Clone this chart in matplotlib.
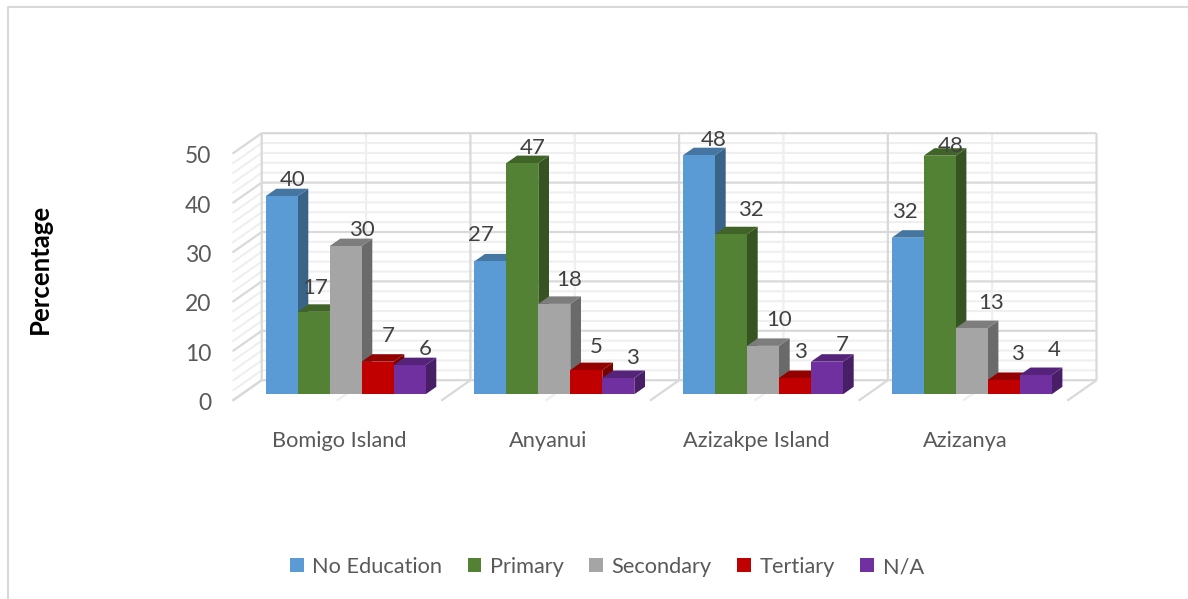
import matplotlib
matplotlib.use('Agg')
import matplotlib.pyplot as plt
from matplotlib.lines import Line2D
from matplotlib.patches import Patch, Polygon
from matplotlib.colors import to_rgb

plt.rcParams['font.family'] = ['Lato', 'DejaVu Sans']

sites = ['Bomigo Island', 'Anyanui', 'Azizakpe Island', 'Azizanya']
levels = ['No Education', 'Primary', 'Secondary', 'Tertiary', 'N/A']
colors = ['#5B9BD5', '#548235', '#A5A5A5', '#C00000', '#7030A0']

no_education = [40.1, 26.9, 48.4, 31.7]
primary = [16.7, 46.8, 32.4, 48.3]
secondary = [30.0, 18.3, 9.8, 13.4]
tertiary = [6.6, 4.9, 3.3, 2.9]
not_available = [5.9, 3.3, 6.6, 3.9]
series = [no_education, primary, secondary, tertiary, not_available]

# label offsets from the bar's top centre, in pixels (hand placed like the original)
label_nudge = [
    [(11, 16), (-9, 26), (15, 15), (-3, 26)],
    [(2, 24), (10, 15), (20, 24), (11, 10)],
    [(16, 16), (15, 24), (16, 26), (19, 25)],
    [(11, 26), (10, 23), (5, 26), (14, 26)],
    [(16, 16), (14, 20), (15, 17), (19, 25)],
]

W, H = 1188, 599
group_px = 208.7
unit_px = 4.94
x0_px = 241.6
y0_px = 394.3

bar_w = 32 / group_px
gap = 24 / group_px
depth_x = 10.7 / group_px
depth_y = 7.5 / unit_px
back = 1.88
front = -0.85


def shift(x, v, d):
    return x + d * depth_x, v + d * depth_y


fig = plt.figure(figsize=(W / 100, H / 100), dpi=100)
ax = fig.add_axes([0, 0, 1, 1])
ax.set_xlim(-x0_px / group_px, (W - x0_px) / group_px)
ax.set_ylim((y0_px - H) / unit_px, y0_px / unit_px)
ax.axis('off')

major = '#D9D9D9'
minor = '#EFEFEF'
n = len(sites)

# back wall + side wall grid
for v in range(0, 51, 2):
    is_major = v % 10 == 0
    col = major if is_major else minor
    lw = 1.6 if is_major else 1.5
    z = 2 if is_major else 1
    xa, ya = shift(0, v, front)
    xb, yb = shift(0, v, back)
    xc, yc = shift(n, v, back)
    ax.plot([xa, xb, xc], [ya, yb, yc], color=col, lw=lw, zorder=z, solid_capstyle='butt')

for i in range(n * 2 + 1):
    c = i / 2
    col = major if i % 2 == 0 else minor
    z = 2 if i % 2 == 0 else 1
    xa, ya = shift(c, 0, front)
    xb, yb = shift(c, 0, back)
    xc, yc = shift(c, 50, back)
    ax.plot([xa, xb, xc], [ya, yb, yc], color=col, lw=1.6, zorder=z, solid_capstyle='butt')

# bars, left to right so the later ones overlap the sides of earlier ones
z = 5
for g in range(n):
    for s in range(len(levels)):
        val = series[s][g]
        left = g + gap + s * bar_w
        right = left + bar_w
        rgb = to_rgb(colors[s])
        side = tuple(c * 0.64 for c in rgb)
        top = tuple(c * 0.76 for c in rgb)
        ax.bar(left, val, bar_w, align='edge', color=colors[s], zorder=z + 2)
        ax.add_patch(Polygon([(right, 0), shift(right, 0, 1), shift(right, val, 1), (right, val)],
                             closed=True, fc=side, ec='none', zorder=z))
        ax.add_patch(Polygon([(left, val), (right, val), shift(right, val, 1), shift(left, val, 1)],
                             closed=True, fc=top, ec='none', zorder=z + 1))
        z += 3

for g in range(n):
    for s in range(len(levels)):
        val = series[s][g]
        ax.annotate(f'{val:.0f}', (g + gap + (s + 0.5) * bar_w, val), xytext=label_nudge[s][g],
                    textcoords='offset pixels', ha='center', va='center',
                    fontsize=16, color='#404040', zorder=200)

# value axis labels
for v in range(0, 51, 10):
    xt, yt = shift(0, v, front)
    ax.text(xt - 21 / group_px, yt - 0.6, str(v), ha='right', va='center', fontsize=16.5, color='#595959')

for g, name in enumerate(sites):
    ax.text(g + 0.5 - 7 / group_px, -9.4, name, ha='center', va='center', fontsize=15.7, color='#595959')

fig.text(40 / W, 1 - 269 / H, 'Percentage', rotation=90, ha='center', va='center',
         fontsize=18.5, fontweight='bold', color='black')

handles = [Patch(fc=c, ec='none') for c in colors]
ax.legend(handles, levels, ncol=5, loc='center', bbox_to_anchor=(607 / W, 1 - 567 / H),
          frameon=False, fontsize=15.7, labelcolor='#595959', handlelength=0.62, handleheight=0.62,
          handletextpad=0.4, columnspacing=1.17)

# chart border, top and left only
border = '#D9D9D9'
fig.add_artist(Line2D([8 / W, 8 / W, 1], [0, 1 - 7 / H, 1 - 7 / H], color=border, lw=1.5))

fig.savefig('out.png', dpi=100)
